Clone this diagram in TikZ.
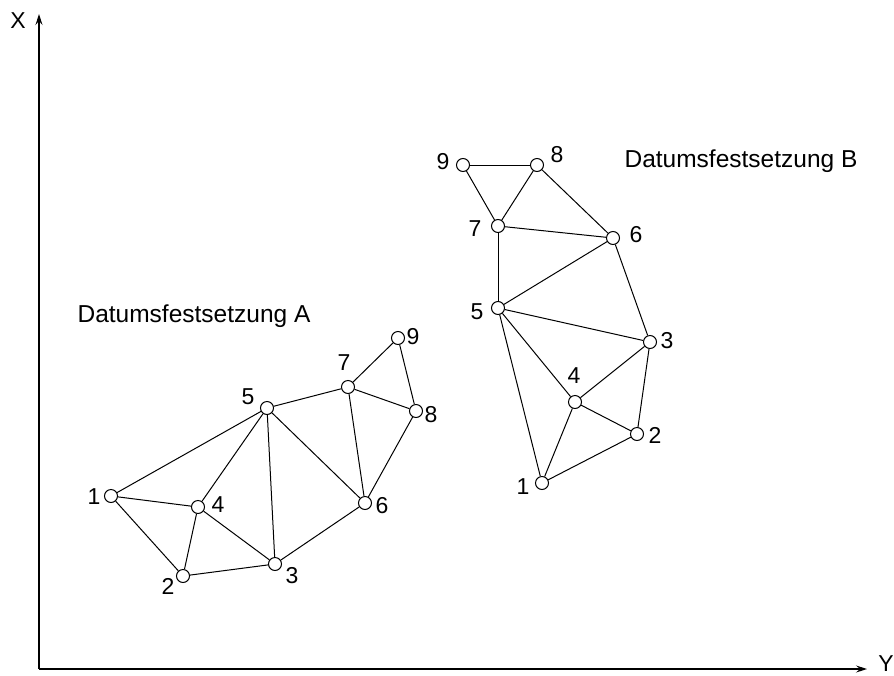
\documentclass[tikz,border=0pt]{standalone}
\usepackage{fontspec}
\setmainfont{Liberation Sans}
\usetikzlibrary{arrows.meta}
\begin{document}
\begin{tikzpicture}[x=1pt,y=-1pt,
  pt/.style={circle,draw,fill=white,line width=1pt,minimum size=13pt,inner sep=0pt},
  lbl/.style={font=\fontsize{23}{27}\selectfont,inner sep=0pt},
  title/.style={font=\fontsize{24.5}{28}\selectfont,inner sep=0pt},
  edge/.style={line width=1pt},
  axis/.style={line width=1.2pt,-{Stealth[length=11pt,width=7pt,inset=4pt]}}]
\useasboundingbox (0,0) rectangle (894,675);

% axes
\coordinate (O) at (39,669);
\coordinate (Xend) at (39,14);
\coordinate (Yend) at (867,669);
\draw[axis] (O) -- (Xend);
\draw[axis] (O) -- (Yend);
\node[lbl] (xl) at (18,21) {X};
\node[lbl] (yl) at (886,664) {Y};

% network A
\node[pt] (a1) at (111,496) {};
\node[pt] (a2) at (183,576) {};
\node[pt] (a3) at (275,564) {};
\node[pt] (a4) at (198,507) {};
\node[pt] (a5) at (267,408) {};
\node[pt] (a6) at (365,503) {};
\node[pt] (a7) at (348,387) {};
\node[pt] (a8) at (416,411) {};
\node[pt] (a9) at (398,338) {};

\foreach \u/\v in {a1/a5,a1/a4,a1/a2,a2/a4,a2/a3,a4/a3,a4/a5,a5/a3,a5/a6,a5/a7,a3/a6,a7/a6,a7/a8,a7/a9,a9/a8,a8/a6}
  \draw[edge] (\u) -- (\v);

\node[lbl] (la1) at (94,497) {1};
\node[lbl] (la2) at (168,586) {2};
\node[lbl] (la3) at (292,576) {3};
\node[lbl] (la4) at (218,505) {4};
\node[lbl] (la5) at (248,397) {5};
\node[lbl] (la6) at (382,506) {6};
\node[lbl] (la7) at (344,363) {7};
\node[lbl] (la8) at (431,415) {8};
\node[lbl] (la9) at (413,337) {9};

% network B
\node[pt] (b1) at (542,483) {};
\node[pt] (b2) at (637,434) {};
\node[pt] (b3) at (650,342) {};
\node[pt] (b4) at (575,402) {};
\node[pt] (b5) at (498,308) {};
\node[pt] (b6) at (613,238) {};
\node[pt] (b7) at (498,226) {};
\node[pt] (b8) at (537,165) {};
\node[pt] (b9) at (463,165) {};

\foreach \u/\v in {b9/b8,b9/b7,b8/b7,b8/b6,b7/b6,b7/b5,b5/b6,b6/b3,b5/b3,b5/b4,b5/b1,b4/b3,b4/b1,b4/b2,b3/b2,b2/b1}
  \draw[edge] (\u) -- (\v);

\node[lbl] (lb1) at (523,487) {1};
\node[lbl] (lb2) at (655,435) {2};
\node[lbl] (lb3) at (667,341) {3};
\node[lbl] (lb4) at (574,376) {4};
\node[lbl] (lb5) at (477,312) {5};
\node[lbl] (lb6) at (636,235) {6};
\node[lbl] (lb7) at (475,229) {7};
\node[lbl] (lb8) at (557,155) {8};
\node[lbl] (lb9) at (443,162) {9};

\node[title] (ta) at (194,316) {Datumsfestsetzung A};
\node[title] (tb) at (741,161) {Datumsfestsetzung B};
\end{tikzpicture}
\end{document}
